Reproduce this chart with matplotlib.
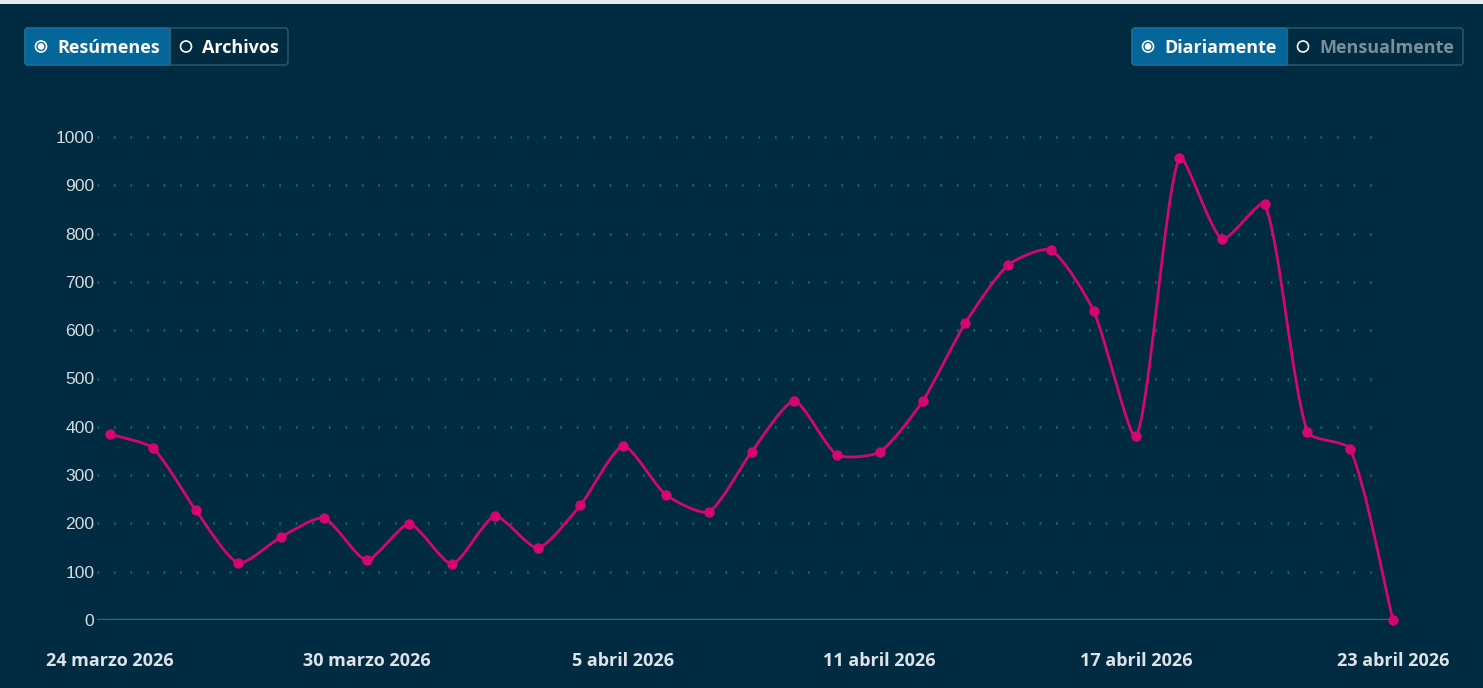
import numpy as np
import matplotlib
matplotlib.use("Agg")
import matplotlib.pyplot as plt
from matplotlib.path import Path
from matplotlib.patches import PathPatch, FancyBboxPatch, Rectangle, Circle

plt.rcParams['lines.scale_dashes'] = False

# ---- data ----
dates = ["24 marzo 2026", "25 marzo 2026", "26 marzo 2026", "27 marzo 2026", "28 marzo 2026",
         "29 marzo 2026", "30 marzo 2026", "31 marzo 2026", "1 abril 2026", "2 abril 2026",
         "3 abril 2026", "4 abril 2026", "5 abril 2026", "6 abril 2026", "7 abril 2026",
         "8 abril 2026", "9 abril 2026", "10 abril 2026", "11 abril 2026", "12 abril 2026",
         "13 abril 2026", "14 abril 2026", "15 abril 2026", "16 abril 2026", "17 abril 2026",
         "18 abril 2026", "19 abril 2026", "20 abril 2026", "21 abril 2026", "22 abril 2026",
         "23 abril 2026"]
values = [385, 356, 228, 118, 172, 211, 124, 199, 116, 215, 149, 238, 360, 259, 224,
          348, 453, 342, 348, 453, 615, 735, 766, 640, 381, 957, 789, 861, 389, 354, 0]
shown_tick_idx = [0, 6, 12, 18, 24, 30]
y_ticks = [0, 100, 200, 300, 400, 500, 600, 700, 800, 900, 1000]
left_buttons = ["Resúmenes", "Archivos"]
right_buttons = ["Diariamente", "Mensualmente"]

BG = "#002b40"
W, H = 1483, 688
fig = plt.figure(figsize=(W / 100, H / 100), dpi=100, facecolor=BG)

# overlay in pixel coords
ov = fig.add_axes([0, 0, 1, 1], zorder=0)
ov.set_xlim(0, W); ov.set_ylim(H, 0); ov.axis("off")
ov.patch.set_alpha(0)
ov.add_patch(Rectangle((0, 0), W, 4, color="#e6eaed", lw=0))

def px2fig(x0, y_top, x1, y_bot):
    return [x0 / W, 1 - y_bot / H, (x1 - x0) / W, (y_bot - y_top) / H]

# main axes: pixel x 97..1393, y 137 (1000) .. 620 (0)
ax = fig.add_axes(px2fig(97, 137, 1393, 620), zorder=1)
ax.set_facecolor("none")
x = np.arange(len(values))
step = (1393 - 110) / 30.0
ax.set_xlim(-13 / step, len(values) - 1)
ax.set_ylim(0, 1000)
for s in ax.spines.values():
    s.set_visible(False)

# grid dotted
for yv in y_ticks[1:]:
    ax.plot([-13 / step, 29.8], [yv, yv], color="#0e6d9f", lw=1.8,
            linestyle=(0, (1.1, 10.8)), zorder=1, clip_on=False, solid_capstyle="butt")
ax.axhline(0, color="#0a72b3", lw=1.7, zorder=2)

ax.set_yticks(y_ticks)
ax.set_yticklabels([str(v) for v in y_ticks], fontfamily="Liberation Sans",
                   fontsize=12.6, color="#d5dce2")
ax.tick_params(axis="y", length=0, pad=2)
ax.set_xticks([x[i] for i in shown_tick_idx])
ax.set_xticklabels([dates[i] for i in shown_tick_idx], fontfamily="Open Sans",
                   fontweight="bold", fontsize=13, color="#dde3e8")
ax.tick_params(axis="x", length=0, pad=23)

# spline (Chart.js style) in display coords
fig.canvas.draw()
pts = ax.transData.transform(np.column_stack([x, values]))
bb = ax.bbox
t = 0.22
n = len(pts)
cp_prev = np.zeros_like(pts); cp_next = np.zeros_like(pts)
for i in range(n):
    prev = pts[i - 1] if i > 0 else pts[i]
    cur = pts[i]
    nxt = pts[i + 1] if i < n - 1 else pts[i]
    d01 = np.hypot(*(cur - prev)); d12 = np.hypot(*(nxt - cur))
    tot = d01 + d12
    s01 = d01 / tot if tot else 0; s12 = d12 / tot if tot else 0
    cp_prev[i] = cur - t * s01 * (nxt - prev)
    cp_next[i] = cur + t * s12 * (nxt - prev)
for arr in (cp_prev, cp_next):
    arr[:, 1] = np.clip(arr[:, 1], bb.y0, bb.y1)
verts = [pts[0]]; codes = [Path.MOVETO]
for i in range(n - 1):
    verts += [cp_next[i], cp_prev[i + 1], pts[i + 1]]
    codes += [Path.CURVE4] * 3
inv = ax.transData.inverted()
verts_d = inv.transform(np.array(verts))
LC = "#d6066f"
ax.add_patch(PathPatch(Path(verts_d, codes), fill=False, edgecolor=LC, lw=2.0,
                       zorder=3, clip_on=False))
ax.plot(x, values, "o", color=LC, ms=6.5, zorder=4, clip_on=False)

# buttons
def button_group(x0, y0, h, widths, labels, active, text_colors):
    xs = x0
    total = sum(widths)
    ov.add_patch(FancyBboxPatch((x0, y0), total, h, boxstyle="round,pad=0,rounding_size=3",
                                facecolor=BG, edgecolor="#2d5a74", lw=1.0, zorder=1))
    for k, (w, lab) in enumerate(zip(widths, labels)):
        if k == active:
            ov.add_patch(FancyBboxPatch((xs, y0), w, h, boxstyle="round,pad=0,rounding_size=3",
                                        facecolor="#046699", edgecolor="#1d6f9c", lw=1.0, zorder=2))
        else:
            ov.plot([xs, xs], [y0, y0 + h], color="#2d5a74", lw=1.0, zorder=3)
        cx, cy = xs + 16, y0 + h / 2
        ov.add_patch(Circle((cx, cy), 5.5, facecolor="none", edgecolor="white", lw=1.2, zorder=4))
        if k == active:
            ov.add_patch(Circle((cx, cy), 3.3, facecolor="white", edgecolor="none", zorder=4))
        ov.text(cx + 16, cy + 1.5, lab, fontfamily="Open Sans", fontweight="bold", fontsize=13,
                color=text_colors[k], va="center", ha="left", zorder=5)
        xs += w

button_group(25, 28, 37, [145, 118], left_buttons, 0, ["white", "white"])
button_group(1132, 28, 37, [155, 176], right_buttons, 0, ["white", "#7b8f9b"])

fig.savefig("out.png", dpi=100, facecolor=BG)
